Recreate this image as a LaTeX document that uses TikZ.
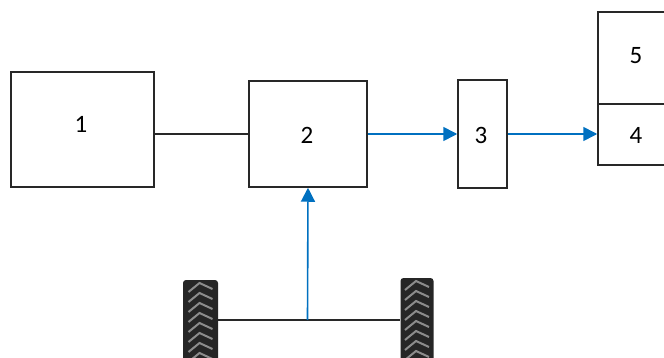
\documentclass[tikz,border=0pt]{standalone}
\usepackage{fontspec}
\setmainfont{Carlito}
\usetikzlibrary{arrows.meta}
\definecolor{arrowblue}{RGB}{0,112,192}
\definecolor{boxline}{RGB}{40,40,40}
\begin{document}
\begin{tikzpicture}[x=1pt,y=-1pt,
 box/.style={draw=boxline,line width=1.5pt,fill=white,inner sep=0pt},
 lbl/.style={font=\fontsize{25}{30}\selectfont,inner sep=0pt},
 link/.style={draw=boxline,line width=1.5pt},
 flow/.style={draw=arrowblue,line width=1.6pt,-{Triangle[length=14pt,width=14pt]}},
 tyre/.style={fill=black!85,rounded corners=3pt,inner sep=0pt},
 tread/.style={draw=black!45,line width=2pt}]
\useasboundingbox (0,0) rectangle (664,358);
\clip (0,0) rectangle (664,358);
% boxes
\node[box,minimum width=143pt,minimum height=115pt] (b1) at (82.5,129.5) {};
\node[lbl] (t1) at (81,124) {1};
\node[box,minimum width=118pt,minimum height=106pt] (b2) at (308,134) {};
\node[lbl] (t2) at (307,135) {2};
\node[box,minimum width=49pt,minimum height=108pt] (b3) at (482.5,134) {};
\node[lbl] (t3) at (481,135) {3};
\node[box,minimum width=102pt,minimum height=92pt] (b5) at (649,58) {};
\node[lbl] (t5) at (636,56) {5};
\node[box,minimum width=102pt,minimum height=61pt] (b4) at (649,134.5) {};
\node[lbl] (t4) at (636,135) {4};
% tyres
\node[tyre,minimum width=35pt,minimum height=90pt] (tl) at (200.5,325) {};
\node[tyre,minimum width=33pt,minimum height=92pt] (tr) at (417,324) {};
\foreach \cx/\tp in {200.5/283,417/281}{
  \foreach \k in {0,...,7}{
    \draw[tread] (\cx-12,\tp+10*\k+9) -- (\cx-1,\tp+10*\k) -- (\cx+12,\tp+10*\k+6);
  }
}
% axle
\coordinate (axle) at (307.5,320);
\draw[link] (tl.east |- axle) -- (tr.west |- axle);
% connectors
\draw[link] (b2.west -| b1.east) -- (b2.west);
\draw[flow] (b2.east) -- (b3.west);
\draw[flow] (b3.east) -- (b3.east -| b4.west);
\draw[flow] (axle) -- (b2.south);
\end{tikzpicture}
\end{document}
